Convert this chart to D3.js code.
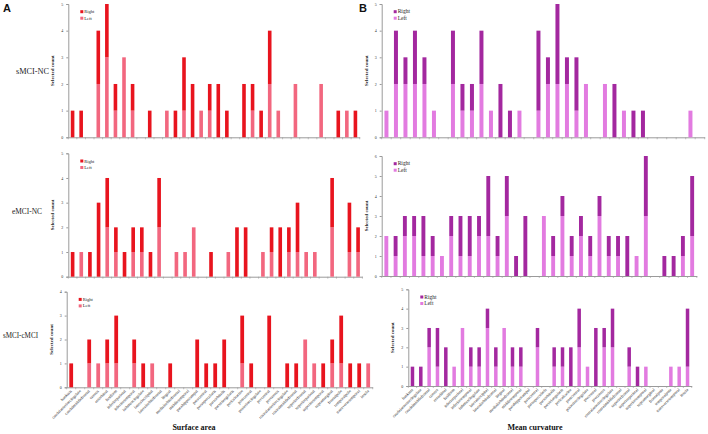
<!DOCTYPE html>
<html><head><meta charset="utf-8">
<script src="https://cdn.jsdelivr.net/npm/d3@7"></script>
<style>
html,body{margin:0;padding:0;background:#fff;}
svg{display:block;}
</style>
</head><body>
<svg id="chart" width="708" height="434"></svg>
<script>
// ---- data ----
const regions = ["bankssts","caudalanteriorcingulate","caudalmiddlefrontal","cuneus","entorhinal","fusiform",
 "inferiorparietal","inferiortemporal","isthmuscingulate","lateraloccipital","lateralorbitofrontal","lingual",
 "medialorbitofrontal","middletemporal","parahippocampal","paracentral","parsopercularis","parsorbitalis",
 "parstriangularis","pericalcarine","postcentral","posteriorcingulate","precentral","precuneus",
 "rostralanteriorcingulate","rostralmiddlefrontal","superiorfrontal","superiorparietal","superiortemporal",
 "supramarginal","frontalpole","temporalpole","transversetemporal","insula"];
const seriesNames = ["Right","Left"];
const comparisons = ["sMCI-NC","eMCI-NC","sMCI-cMCI"];
const measures = ["Surface area","Mean curvature"];

const saSmciNcLeft  = [0,0,0,2,3,1,3,1,0,0,0,1,0,1,0,1,1,0,0,0,0,1,0,2,1,0,2,0,0,2,0,0,1,0];
const saSmciNcRight = [1,1,0,2,2,1,0,1,0,1,0,0,1,2,2,0,1,2,1,0,2,1,1,2,0,0,0,0,0,0,0,1,0,1];
const saEmciNcLeft  = [0,1,0,0,2,1,0,1,1,0,2,0,1,1,2,0,0,0,1,0,0,0,1,1,0,1,1,1,1,0,2,0,1,1];
const saEmciNcRight = [1,0,1,3,2,1,1,1,1,1,2,0,0,0,0,0,1,0,0,2,2,0,0,1,2,1,2,0,0,0,2,0,2,1];
const saSmciCmciLeft  = [0,0,1,1,1,1,0,1,0,1,0,0,0,0,0,0,0,0,0,1,0,0,0,0,0,0,2,1,0,1,1,0,0,1];
const saSmciCmciRight = [1,0,1,0,1,2,0,1,1,0,0,1,0,0,2,1,1,2,0,2,1,0,3,0,1,1,0,0,1,1,2,1,1,0];

const mcSmciNcLeft  = [1,2,2,2,2,1,0,2,1,1,2,1,0,0,1,0,1,2,2,2,1,2,0,2,0,1,0,0,0,0,0,0,1,0];
const mcSmciNcRight = [0,2,1,2,1,0,0,2,1,1,2,0,2,1,0,0,3,1,3,1,2,0,0,0,2,0,1,1,0,0,0,0,0,0];
const mcEmciNcLeft  = [2,1,2,2,1,1,1,2,1,1,2,2,1,3,0,0,0,3,1,3,1,2,1,3,1,1,0,1,3,0,0,0,1,2];
const mcEmciNcRight = [0,1,1,1,2,1,0,1,2,2,1,3,1,2,1,3,0,0,1,1,1,1,1,1,1,1,2,0,3,0,1,1,1,3];
const mcSmciCmciLeft  = [0,0,2,1,0,1,3,1,1,3,1,3,1,1,0,2,0,1,1,0,2,1,0,2,2,0,1,0,1,0,0,1,1,1];
const mcSmciCmciRight = [1,1,1,2,2,0,0,1,1,1,1,0,1,1,0,1,0,1,1,2,2,0,3,1,2,0,1,1,0,0,0,0,0,3];

const yMaxA = [5,5,4];
const yMaxB = [5,6,5];

// ---- layout / style ----
const colorsA = {Right:"#e8141e", Left:"#f2677f"};
const colorsB = {Right:"#a3289f", Left:"#e27be0"};

const panels = [
  {col:0,row:0,left:saSmciNcLeft,right:saSmciNcRight,ymax:yMaxA[0],x0:68.3,x1:359.7,yTop:4,yBot:137.3,colors:colorsA},
  {col:0,row:1,left:saEmciNcLeft,right:saEmciNcRight,ymax:yMaxA[1],x0:68.3,x1:362.4,yTop:153.3,yBot:276.7,colors:colorsA},
  {col:0,row:2,left:saSmciCmciLeft,right:saSmciCmciRight,ymax:yMaxA[2],x0:66.7,x1:372.7,yTop:291.7,yBot:387.3,colors:colorsA,labels:true},
  {col:1,row:0,left:mcSmciNcLeft,right:mcSmciNcRight,ymax:yMaxB[0],x0:381.7,x1:704.7,yTop:4,yBot:137.3,colors:colorsB},
  {col:1,row:1,left:mcEmciNcLeft,right:mcEmciNcRight,ymax:yMaxB[1],x0:381.7,x1:696.8,yTop:156,yBot:276,colors:colorsB},
  {col:1,row:2,left:mcSmciCmciLeft,right:mcSmciCmciRight,ymax:yMaxB[2],x0:408.3,x1:691.7,yTop:289.3,yBot:386,colors:colorsB,labels:true}
];

const svg = d3.select("#chart");
const serif = "'Liberation Serif','Times New Roman',serif";
const axisColor = "#9a9a9a";

panels.forEach(p => {
  const g = svg.append("g");
  const x = d3.scaleBand().domain(regions).range([p.x0, p.x1]).paddingInner(0.58).paddingOuter(0.29);
  const y = d3.scaleLinear().domain([0, p.ymax]).range([p.yBot, p.yTop]);

  const rows = regions.map((r,i)=>({region:r, Left:p.left[i], Right:p.right[i]}));
  const stack = d3.stack().keys(["Left","Right"])(rows);

  // y axis
  const ya = g.append("g").attr("transform",`translate(${p.x0},0)`)
    .call(d3.axisLeft(y).ticks(p.ymax).tickFormat(d3.format("d")).tickSize(2).tickPadding(3));
  ya.select(".domain").attr("stroke",axisColor);
  ya.selectAll(".tick line").attr("stroke",axisColor);
  ya.selectAll("text").attr("font-size",4).attr("font-family",serif).attr("fill","#333");

  // x axis (baseline with boundary ticks)
  const xa = g.append("g").attr("transform",`translate(0,${p.yBot})`)
    .call(d3.axisBottom(x).tickSize(0).tickFormat(""));
  xa.select(".domain").attr("stroke",axisColor);
  const bounds = regions.map(r => x(r) - x.step()*x.paddingInner()/2).concat([p.x1]);
  g.selectAll("line.btick").data(bounds).join("line")
    .attr("x1",d=>d).attr("x2",d=>d).attr("y1",p.yBot).attr("y2",p.yBot+2)
    .attr("stroke",axisColor).attr("stroke-width",0.6);

  // bars
  stack.forEach(s => {
    g.append("g").attr("fill", p.colors[s.key])
      .selectAll("rect").data(s).join("rect")
      .attr("x", d => x(d.data.region))
      .attr("width", x.bandwidth())
      .attr("y", d => y(d[1]))
      .attr("height", d => y(d[0]) - y(d[1]));
  });

  // y label
  const cy = (p.yTop + p.yBot)/2;
  g.append("text").attr("transform",`translate(${p.x0-14},${cy}) rotate(-90)`)
    .attr("text-anchor","middle").attr("font-size",5).attr("font-weight","bold")
    .attr("font-family",serif).attr("fill","#222").text("Selected count");

  // legend
  const lx = p.x0 + 12, ly = p.yTop + 8;
  seriesNames.forEach((n,i) => {
    g.append("rect").attr("x",lx).attr("y",ly + i*6.5 - 1.8).attr("width",3).attr("height",3)
      .attr("fill",p.colors[n]);
    g.append("text").attr("x",lx+4).attr("y",ly + i*6.5 + 1.2)
      .attr("font-size",p.col===0?4.5:5.5).attr("font-family",serif).attr("fill","#222").text(n);
  });

  // category labels
  if (p.labels) {
    g.selectAll("text.cat").data(regions).join("text")
      .attr("transform", d => `translate(${x(d)+x.bandwidth()/2+1},${p.yBot+4}) rotate(-45)`)
      .attr("text-anchor","end").attr("font-size",4.2).attr("font-family",serif).attr("fill","#222")
      .text(d => d);
  }
});

// row labels
const rowY = [71, 211, 335];
const rowX = [16, 12, 3];
const rowW = [33, 30, 35];
comparisons.forEach((c,i) => {
  svg.append("text").attr("x",rowX[i]).attr("y",rowY[i]+3).attr("text-anchor","start")
    .attr("font-size",8).attr("font-family",serif).attr("fill","#222")
    .attr("textLength",rowW[i]).attr("lengthAdjust","spacingAndGlyphs").text(c);
});

// x titles
svg.append("text").attr("x",194).attr("y",430).attr("text-anchor","middle")
  .attr("font-size",8).attr("font-weight","bold").attr("font-family",serif).attr("fill","#111").text(measures[0]);
svg.append("text").attr("x",535).attr("y",430).attr("text-anchor","middle")
  .attr("font-size",8).attr("font-weight","bold").attr("font-family",serif).attr("fill","#111").text(measures[1]);

// panel letters
svg.append("text").attr("x",3).attr("y",12).attr("font-size",11).attr("font-weight","bold")
  .attr("font-family","'Liberation Sans',Arial,sans-serif").attr("fill","#111").text("A");
svg.append("text").attr("x",359).attr("y",12).attr("font-size",11).attr("font-weight","bold")
  .attr("font-family","'Liberation Sans',Arial,sans-serif").attr("fill","#111").text("B");
</script>
</body></html>
